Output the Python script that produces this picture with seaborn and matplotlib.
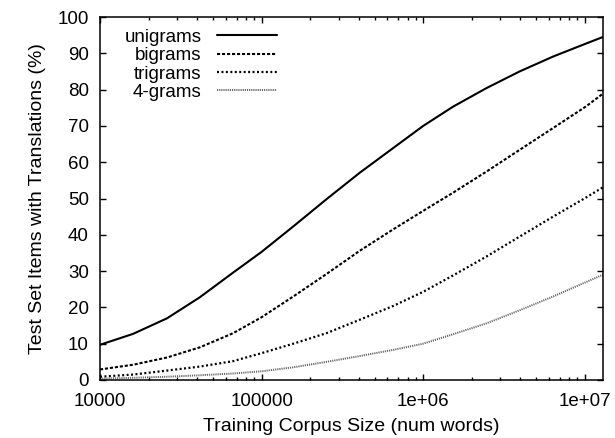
import matplotlib
matplotlib.use('Agg')
import matplotlib.pyplot as plt
import matplotlib.ticker as mticker
import seaborn as sns
import pandas as pd

# corpus sizes (words) and coverage (%)
corpus_size = [10000, 16000, 26000, 41500, 66700, 100000, 157000, 252000, 405000,
               652000, 1000000, 1530000, 2460000, 3950000, 6360000, 10200000, 12960000]
unigrams = [9.7, 12.7, 17.0, 22.8, 29.6, 35.3, 42.3, 49.8, 57.1, 63.9, 70.0,
            75.3, 80.4, 85.0, 89.1, 92.7, 94.5]
bigrams = [2.9, 4.2, 6.2, 9.0, 12.9, 17.3, 23.0, 29.2, 35.6, 41.5, 46.6,
           51.6, 57.4, 63.4, 69.4, 75.4, 78.9]
trigrams = [0.9, 1.5, 2.6, 3.7, 5.2, 7.4, 10.0, 12.9, 16.6, 20.4, 24.3,
            28.8, 34.0, 39.5, 45.0, 50.3, 53.1]
fourgrams = [0.4, 0.6, 0.9, 1.3, 1.8, 2.4, 3.5, 5.0, 6.6, 8.3, 10.0,
             12.6, 15.6, 19.2, 23.0, 27.0, 29.0]

series = {
    'unigrams': unigrams,
    'bigrams': bigrams,
    'trigrams': trigrams,
    '4-grams': fourgrams,
}
styles = {
    'unigrams': dict(color='black', linestyle='-', linewidth=1.5),
    'bigrams': dict(color='black', linestyle=(0, (1.5, 0.9)), linewidth=1.5),
    'trigrams': dict(color='black', linestyle=(0, (0.9, 1.1)), linewidth=1.6),
    '4-grams': dict(color='#666666', linestyle=(0, (0.6, 0.5)), linewidth=1.4),
}

sns.set_style('ticks')
plt.rcParams['font.family'] = ['Liberation Sans', 'DejaVu Sans']
plt.rcParams['text.color'] = 'black'
plt.rcParams['axes.labelcolor'] = 'black'
plt.rcParams['xtick.color'] = 'black'
plt.rcParams['ytick.color'] = 'black'

fig = plt.figure(figsize=(6.15, 4.38), dpi=100)
ax = fig.add_axes([100 / 615, 58 / 438, 503 / 615, 363 / 438])

for name, vals in series.items():
    df = pd.DataFrame({'size': corpus_size, 'pct': vals})
    sns.lineplot(data=df, x='size', y='pct', ax=ax, label=name, **styles[name])

ax.set_xscale('log')
ax.set_xlim(10000, 12960000)
ax.set_ylim(0, 100)
ax.set_yticks(range(0, 101, 10))
ax.xaxis.set_major_locator(mticker.FixedLocator([1e4, 1e5, 1e6, 1e7]))
ax.xaxis.set_major_formatter(mticker.FixedFormatter(['10000', '100000', '1e+06', '1e+07']))
ax.xaxis.set_minor_locator(mticker.LogLocator(base=10, subs=range(2, 10)))
ax.xaxis.set_minor_formatter(mticker.NullFormatter())

ax.tick_params(which='both', direction='in', top=True, right=True,
               labelsize=13.5, width=1)
ax.tick_params(which='major', length=4.5)
ax.tick_params(axis='x', which='major', pad=9)
ax.tick_params(axis='y', which='major', pad=8)
ax.tick_params(which='minor', length=2.5)
for s in ax.spines.values():
    s.set_linewidth(1.1)
    s.set_color('black')

ax.set_xlabel('Training Corpus Size (num words)', fontsize=14, labelpad=6)
ax.set_ylabel('Test Set Items with Translations (%)', fontsize=14, labelpad=8)

ax.legend(loc='upper right', bbox_to_anchor=(0.351, 0.968), frameon=False,
          markerfirst=False, fontsize=13.5, handlelength=3.2,
          handletextpad=0.8, labelspacing=0.07, borderpad=0, borderaxespad=0)

fig.savefig('out.png', dpi=100)
